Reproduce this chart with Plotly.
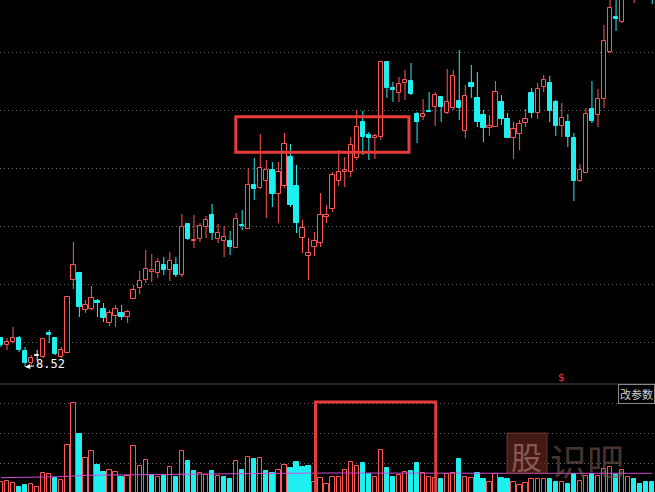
import plotly.graph_objects as go

# ---------------- data ----------------
prev_close = 8.90
opens = [9.10, 8.96, 9.02, 9.10, 8.84, 8.60, 8.76, 8.72, 9.20, 9.10,
         8.72, 8.80, 10.26, 10.40, 9.66, 9.68, 9.84, 9.68, 9.40, 9.54,
         9.60, 9.52, 9.88, 10.10, 10.26, 10.42, 10.40, 10.56, 10.46, 10.56,
         10.36, 11.38, 11.04, 11.08, 11.32, 11.56, 11.08, 11.04, 11.04, 10.90,
         11.37, 11.28, 12.16, 12.10, 12.24, 12.46, 11.98, 12.14, 12.72, 12.14,
         11.10, 10.74, 10.92, 11.00, 11.53, 11.68, 12.24, 12.42, 12.42, 12.70,
         13.42, 13.17, 13.10, 13.12, 14.62, 14.10, 14.00, 14.21, 14.24, 13.58,
         13.52, 13.65, 13.72, 13.92, 13.60, 13.70, 13.84, 13.24, 14.20, 13.90,
         13.56, 13.30, 13.32, 13.82, 13.48, 13.10, 13.18, 13.40, 14.00, 13.60,
         14.12, 14.20, 13.82, 13.34, 13.42, 13.10, 12.24, 12.40, 13.68, 13.56,
         13.88, 14.82, 15.52, 15.42, 16.06, 16.26, 16.66, 16.36, 16.26]
highs = [9.12, 9.10, 9.32, 9.14, 8.92, 8.76, 8.86, 9.10, 9.26, 9.12,
         8.92, 9.92, 11.02, 10.40, 9.86, 10.14, 9.88, 9.80, 9.66, 9.76,
         9.76, 9.66, 10.16, 10.44, 10.86, 10.78, 10.70, 10.72, 10.82, 10.72,
         11.58, 11.40, 11.56, 11.40, 11.54, 11.78, 11.38, 11.34, 11.24, 11.60,
         11.66, 12.50, 12.70, 13.18, 12.66, 12.62, 12.62, 13.20, 12.98, 12.56,
         11.46, 11.10, 11.22, 12.00, 11.76, 12.42, 12.86, 12.72, 13.12, 13.66,
         13.64, 13.22, 13.18, 14.62, 14.62, 14.22, 14.32, 14.46, 14.60, 13.62,
         13.88, 14.02, 14.02, 13.92, 14.48, 14.46, 14.86, 14.16, 14.56, 14.42,
         13.66, 13.56, 14.24, 13.96, 13.60, 13.42, 13.46, 13.68, 14.10, 14.20,
         14.36, 14.34, 13.86, 13.80, 13.58, 13.20, 12.58, 13.70, 14.24, 14.08,
         15.36, 15.96, 15.96, 16.36, 17.16, 17.06, 16.86, 16.56, 16.46]
lows = [8.92, 8.86, 9.00, 8.82, 8.52, 8.54, 8.66, 8.70, 9.00, 8.76,
        8.70, 8.80, 10.08, 9.52, 9.60, 9.66, 9.52, 9.42, 9.34, 9.32,
        9.46, 9.40, 9.88, 9.98, 10.20, 10.22, 10.30, 10.36, 10.24, 10.32,
        10.32, 11.06, 10.90, 11.02, 11.10, 11.06, 11.00, 10.72, 10.76, 10.90,
        11.26, 11.28, 11.86, 12.08, 11.50, 11.72, 11.40, 12.10, 11.72, 11.20,
        10.80, 10.26, 10.74, 10.92, 11.40, 11.62, 12.14, 12.12, 12.32, 12.66,
        12.76, 12.66, 12.68, 13.06, 13.90, 13.82, 13.82, 13.86, 13.96, 13.00,
        13.46, 13.62, 13.34, 13.42, 13.58, 13.66, 13.46, 13.10, 13.90, 13.32,
        13.02, 13.14, 13.32, 13.36, 13.10, 12.68, 12.86, 13.32, 13.50, 13.48,
        14.02, 13.42, 13.14, 13.12, 12.92, 11.84, 12.22, 12.40, 13.40, 13.32,
        13.70, 14.80, 15.24, 15.40, 15.90, 15.80, 15.96, 15.92, 15.78]
closes = [8.96, 9.02, 9.10, 8.86, 8.60, 8.70, 8.76, 9.08, 9.16, 8.78,
          8.86, 9.92, 10.56, 9.72, 9.76, 9.90, 9.81, 9.50, 9.60, 9.68,
          9.52, 9.62, 10.06, 10.24, 10.48, 10.46, 10.62, 10.46, 10.64, 10.36,
          11.32, 11.08, 11.07, 11.34, 11.46, 11.20, 11.21, 11.12, 10.92, 11.48,
          11.35, 12.16, 12.08, 12.50, 12.46, 11.98, 12.42, 12.98, 11.76, 11.40,
          11.30, 10.80, 11.04, 11.56, 11.56, 12.36, 12.42, 12.46, 12.96, 13.32,
          13.12, 13.11, 13.14, 14.62, 14.10, 14.07, 14.18, 14.26, 13.98, 13.42,
          13.58, 13.62, 13.96, 13.72, 13.82, 14.34, 13.70, 13.94, 14.12, 13.42,
          13.30, 13.34, 14.02, 13.48, 13.10, 13.28, 13.38, 13.48, 13.60, 14.08,
          14.26, 13.64, 13.34, 13.50, 13.12, 12.24, 12.46, 13.58, 13.44, 13.88,
          15.04, 15.70, 15.48, 16.16, 16.96, 16.86, 16.26, 16.06, 15.96]
volumes = [11300, 12000, 9700, 6300, 8000, 8700, 5700, 19700, 18700, 15300,
           13000, 48000, 89700, 59000, 34700, 42000, 28000, 20700, 23000, 20700,
           16300, 17000, 47000, 27000, 33000, 18000, 16300, 17000, 25700, 16300,
           42000, 32000, 22000, 19700, 18000, 22000, 17000, 15700, 14000, 32000,
           23000, 35700, 34000, 34700, 22000, 19700, 23000, 28000, 25000, 31000,
           26000, 27000, 11300, 15000, 8700, 16300, 16300, 23000, 30700, 27000,
           29700, 19000, 16300, 43000, 24700, 16300, 18000, 21300, 22300, 29700,
           19700, 15700, 14700, 14000, 18700, 20300, 34000, 16300, 14700, 19700,
           14000, 11300, 18700, 14700, 13700, 11300, 8000, 9700, 14000, 14000,
           14000, 14000, 11300, 11300, 9000, 19000, 12300, 17300, 19000, 17300,
           23700, 25700, 18000, 23000, 15700, 14000, 9000, 11300, 11300]
vol_ma_idx = [0, 10, 14, 22, 30, 39, 54, 83, 86, 108]
vol_ma = [15300, 16300, 17700, 18300, 19000, 19300, 20000, 20300, 19700, 19700]
price_grid = [9.02, 10.18, 11.34, 12.50, 13.66, 14.82]
vol_grid = [30000, 60000, 90000]

# ---------------- styling ----------------
RED = '#ff5555'
CYAN = '#1ef0f0'
WHITE = '#e8e8e8'
BG = '#000000'
W, H = 655, 492

n = len(opens)
xs = list(range(n))

fig = go.Figure()

# wicks (drawn as segments outside the body so hollow bodies stay empty)
wick = {RED: ([], []), CYAN: ([], []), WHITE: ([], [])}
body_base, body_h, body_fill, body_edge = [], [], [], []
for i in xs:
    o, h, l, c = opens[i], highs[i], lows[i], closes[i]
    col = RED if c > o else (CYAN if c < o else WHITE)
    top, bot = max(o, c), min(o, c)
    wx, wy = wick[col]
    if h > top:
        wx += [i, i, None]; wy += [top, h, None]
    if l < bot:
        wx += [i, i, None]; wy += [bot, l, None]
    hgt = max(top - bot, 0.02)
    body_base.append(bot if top - bot >= 0.02 else bot - 0.01)
    body_h.append(hgt)
    body_fill.append(BG if col == RED else col)
    body_edge.append(col)

for col, (wx, wy) in wick.items():
    if wx:
        fig.add_trace(go.Scatter(x=wx, y=wy, mode='lines', line=dict(color=col, width=1),
                                 hoverinfo='skip', showlegend=False, xaxis='x', yaxis='y'))

fig.add_trace(go.Bar(x=xs, y=body_h, base=body_base, width=0.72,
                     marker=dict(color=body_fill, line=dict(color=body_edge, width=1)),
                     showlegend=False, xaxis='x', yaxis='y'))

# volume bars coloured by close vs previous close
pc = [prev_close] + closes[:-1]
v_fill, v_edge = [], []
for i in xs:
    up = closes[i] >= pc[i]
    v_fill.append(BG if up else CYAN)
    v_edge.append(RED if up else CYAN)
fig.add_trace(go.Bar(x=xs, y=volumes, width=0.72,
                     marker=dict(color=v_fill, line=dict(color=v_edge, width=1)),
                     showlegend=False, xaxis='x2', yaxis='y2'))
fig.add_trace(go.Scatter(x=vol_ma_idx, y=vol_ma, mode='lines', line=dict(color='#d04cd8', width=1),
                         showlegend=False, hoverinfo='skip', xaxis='x2', yaxis='y2'))

# ---------------- layout ----------------
px_per_unit = 6.03
xr = [-1 / px_per_unit, (W - 1) / px_per_unit]
price_dom = [1 - 383 / H, 1]
vol_dom = [0, 1 - 385 / H]

axis_common = dict(showticklabels=False, ticks='', zeroline=False, showline=False, automargin=False,
                   fixedrange=True)
fig.update_layout(
    width=W, height=H, autosize=False,
    margin=dict(l=0, r=0, t=0, b=0, pad=0),
    paper_bgcolor=BG, plot_bgcolor=BG,
    barmode='overlay', bargap=0,
    showlegend=False,
    xaxis=dict(range=xr, domain=[0, 1], anchor='y', showgrid=False, **axis_common),
    xaxis2=dict(range=xr, domain=[0, 1], anchor='y2', showgrid=False, **axis_common),
    yaxis=dict(range=[8.20, 15.86], domain=price_dom, tickvals=price_grid, showgrid=True,
               gridcolor='#6a6a6a', gridwidth=1, griddash='1px,3px', **axis_common),
    yaxis2=dict(range=[1000, 108000], domain=vol_dom, tickvals=vol_grid, showgrid=True,
                gridcolor='#6a6a6a', gridwidth=1, griddash='1px,3px', **axis_common),
)

# separator between panels
fig.add_shape(type='line', xref='paper', yref='paper', x0=0, x1=1, y0=1 - 384 / H, y1=1 - 384 / H,
              line=dict(color='#4a4a4a', width=1))

# highlight rectangles
fig.add_shape(type='rect', xref='x', yref='y', x0=38.94, x1=67.66, y0=12.814, y1=13.526,
              line=dict(color='#e83c3c', width=3), fillcolor='rgba(0,0,0,0)')
fig.add_shape(type='rect', xref='x2', yref='y2', x0=52.16, x1=72.1, y0=-5000, y1=91000,
              line=dict(color='#e83c3c', width=3), fillcolor='rgba(0,0,0,0)')

# lowest price label
imin = min(xs, key=lambda i: lows[i])
fig.add_annotation(x=imin, y=lows[imin], xref='x', yref='y', text=f"{lows[imin]:.2f}",
                   showarrow=True, arrowhead=2, arrowsize=1, arrowwidth=1, arrowcolor='#ffffff',
                   ax=25, ay=-3, font=dict(family='DejaVu Sans Mono', size=12, color='#ffffff'))

# signal marker
fig.add_annotation(x=93, y=8.32, xref='x', yref='y', text='$', showarrow=False,
                   font=dict(family='DejaVu Sans', size=11, color='#ff3030'))

# parameter button
fig.add_annotation(x=1, y=1 - 394 / H, xref='paper', yref='paper', xanchor='right', yanchor='middle',
                   text='改参数', showarrow=False, bgcolor=BG, bordercolor='#8a8a8a', borderwidth=1,
                   borderpad=1, font=dict(family='Noto Sans CJK SC', size=11, color='#cfcfcf'))

# watermark: rounded dark-red box + translucent glyphs
fig.add_shape(type='rect', xref='paper', yref='paper', x0=507 / W, x1=547 / W,
              y0=1 - 473 / H, y1=1 - 433 / H, line=dict(color='rgba(130,70,60,0.7)', width=1),
              fillcolor='rgba(95,35,30,0.7)', layer='above')
fig.add_annotation(x=510 / W, y=1 - 432 / H, xref='paper', yref='paper', xanchor='left', yanchor='top',
                   text='股', showarrow=False, borderpad=0,
                   font=dict(family='Noto Sans CJK SC', size=31, color='rgba(165,110,100,0.75)'))
fig.add_annotation(x=549 / W, y=1 - 432 / H, xref='paper', yref='paper', xanchor='left', yanchor='top',
                   text='识吧', showarrow=False, borderpad=0,
                   font=dict(family='Noto Sans CJK SC', size=37, color='rgba(120,88,80,0.6)'))

fig.write_html("out.html", config={'displayModeBar': False},
               post_script="document.body.style.margin='0';document.body.style.padding='0';"
                           "document.body.style.background='#000';")
